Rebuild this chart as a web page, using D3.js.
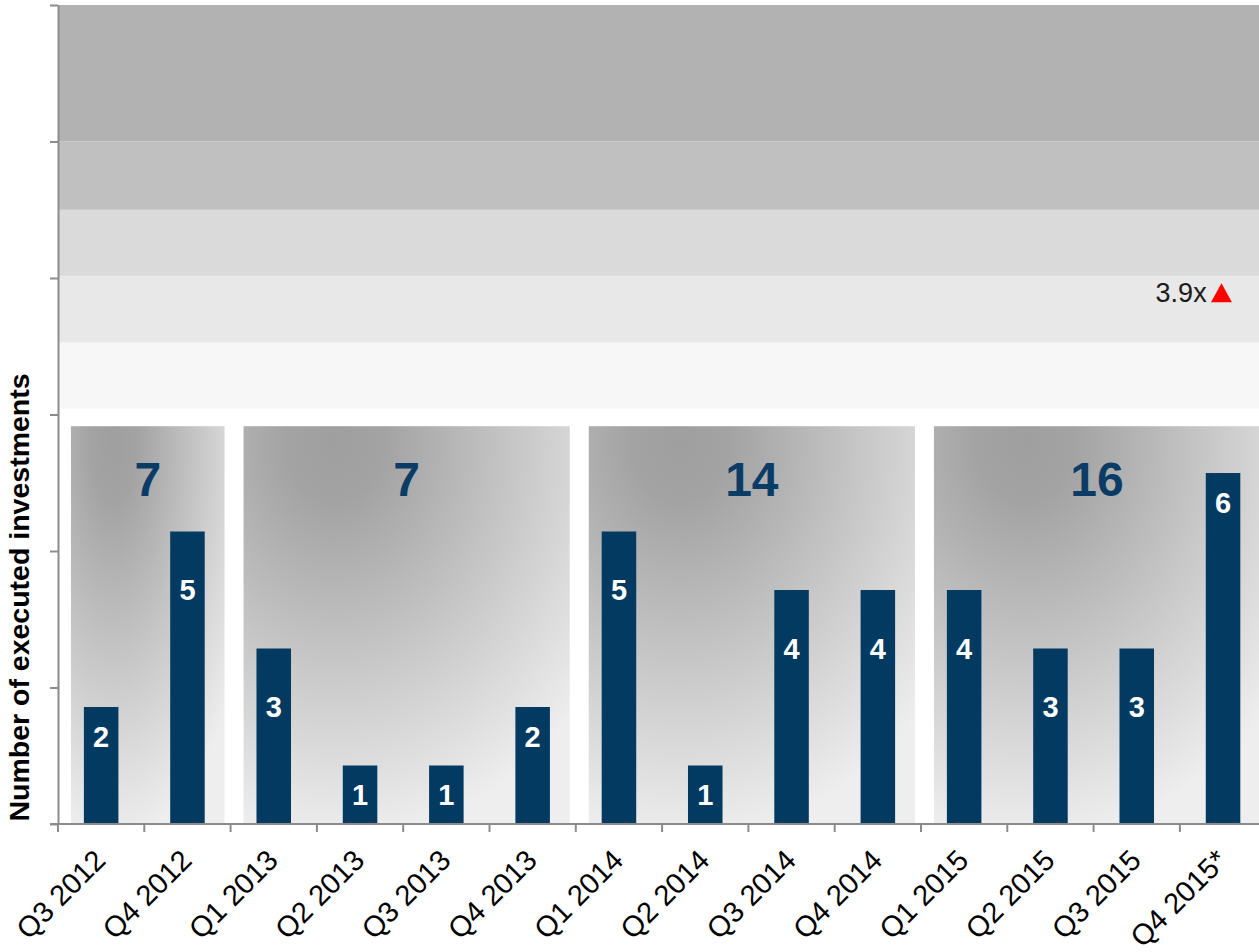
<!DOCTYPE html>
<html>
<head>
<meta charset="utf-8">
<script src="https://cdn.jsdelivr.net/npm/d3@7"></script>
<style>
    body { margin: 0; background: #fff; }
    svg { display: block; font-family: "Liberation Sans", Arial, sans-serif; }
</style>
</head>
<body>
<div class="visholder"></div>
<script>
// data
const quarters = ["Q3 2012", "Q4 2012", "Q1 2013", "Q2 2013", "Q3 2013", "Q4 2013",
    "Q1 2014", "Q2 2014", "Q3 2014", "Q4 2014", "Q1 2015", "Q2 2015", "Q3 2015", "Q4 2015*"];
const investments = [2, 5, 3, 1, 1, 2, 5, 1, 4, 4, 4, 3, 3, 6];
const groupTotals = [7, 7, 14, 16];
const groupFirst = ["Q3 2012", "Q1 2013", "Q1 2014", "Q1 2015"];
const groupLast = ["Q4 2012", "Q4 2013", "Q4 2014", "Q4 2015*"];
const bandEdges = [7.1, 8.23, 9.37, 10.5, 11.67, 14];
const bandColors = ["#f7f7f7", "#e8e8e8", "#dadada", "#c0c0c0", "#b2b2b2"];
const growthLabel = "3.9x";

(function () {
    "use strict";
    // costants
    const width = 1259, height = 952,
        left = 58, top = 5, bottom = 824,
        step = 86.3;

    let svg = d3.select(".visholder").append("svg")
        .attr("width", width)
        .attr("height", height);

    // scales
    let x = d3.scaleBand().domain(quarters).range([left, left + step * quarters.length]);
    let y = d3.scaleLinear().domain([0, 14]).range([bottom, top]);
    const bw = x.bandwidth();

    // gradient for group boxes (dark at the top, light towards bottom / right)
    let grad = svg.append("defs").append("radialGradient")
        .attr("id", "boxGrad")
        .attr("cx", 0.28).attr("cy", 0.04).attr("r", 1)
        .attr("fx", 0.28).attr("fy", 0.04);
    grad.append("stop").attr("offset", "0%").attr("stop-color", "#9f9f9f");
    grad.append("stop").attr("offset", "15%").attr("stop-color", "#a3a3a3");
    grad.append("stop").attr("offset", "100%").attr("stop-color", "#eeeeee");

    // background bands
    svg.append("g").selectAll("rect").data(bandColors).enter().append("rect")
        .attr("x", left)
        .attr("width", width - left)
        .attr("y", (c, i) => y(bandEdges[i + 1]))
        .attr("height", (c, i) => y(bandEdges[i]) - y(bandEdges[i + 1]))
        .style("fill", c => c);

    // group boxes
    const boxTop = 6.8;
    let boxes = svg.append("g").selectAll("g").data(groupTotals).enter().append("g");
    boxes.append("rect")
        .attr("x", (t, i) => x(groupFirst[i]) + bw * 0.15)
        .attr("y", y(boxTop))
        .attr("width", (t, i) => x(groupLast[i]) + bw * 0.93 - x(groupFirst[i]) - bw * 0.15)
        .attr("height", y(0) - y(boxTop))
        .style("fill", "url(#boxGrad)");
    boxes.append("text").text(t => t)
        .attr("x", (t, i) => (x(groupFirst[i]) + bw * 0.15 + x(groupLast[i]) + bw * 0.93) / 2)
        .attr("y", y(5.9))
        .attr("dy", "0.36em")
        .attr("text-anchor", "middle")
        .style("font-size", "48px")
        .style("font-weight", "bold")
        .style("fill", "#0b3c66");

    // bars
    svg.append("g").selectAll("rect").data(investments).enter().append("rect")
        .attr("x", (v, i) => x(quarters[i]) + bw * 0.3)
        .attr("y", v => y(v))
        .attr("width", bw * 0.4)
        .attr("height", v => y(0) - y(v))
        .style("fill", "#033a62");

    // bar labels
    const maxVal = d3.max(investments);
    svg.append("g").selectAll("text").data(investments).enter().append("text")
        .text(v => v)
        .attr("x", (v, i) => x(quarters[i]) + bw / 2)
        .attr("y", v => y(v - ((v <= 2 || v === maxVal) ? 0.5 : 1)))
        .attr("dy", "0.36em")
        .attr("text-anchor", "middle")
        .style("font-size", "29px")
        .style("font-weight", "bold")
        .style("fill", "#fff");

    // growth marker
    const last = quarters[quarters.length - 1];
    svg.append("text").text(growthLabel)
        .attr("x", x(last) + bw * 0.31)
        .attr("y", y(8.92))
        .attr("text-anchor", "end")
        .style("font-size", "27px")
        .style("fill", "#1a1a1a");
    const tx = x(last) + bw * 0.36, ty = y(8.92);
    svg.append("path")
        .attr("d", `M${tx},${ty} L${tx + 21},${ty} L${tx + 10.5},${ty - 19} Z`)
        .style("fill", "#ff0000");

    // y axis
    let yAxis = d3.axisLeft(y)
        .tickValues(d3.range(7).map(i => i * 14 / 6))
        .tickFormat("")
        .tickSize(8)
        .tickSizeOuter(0);
    let gy = svg.append("g").attr("transform", `translate(${left},0)`).call(yAxis);
    gy.selectAll("path, line").style("stroke", "#8c8c8c").style("stroke-width", 2);

    // x axis: line, boundary ticks, rotated labels
    let gx = svg.append("g");
    gx.append("line")
        .attr("x1", left - 8).attr("x2", width)
        .attr("y1", y(0)).attr("y2", y(0));
    gx.selectAll("line.tick").data(quarters).enter().append("line")
        .attr("class", "tick")
        .attr("x1", q => x(q)).attr("x2", q => x(q))
        .attr("y1", y(0)).attr("y2", y(0) + 8);
    gx.selectAll("line").style("stroke", "#8c8c8c").style("stroke-width", 2);
    gx.selectAll("text").data(quarters).enter().append("text")
        .text(q => q)
        .attr("text-anchor", "end")
        .attr("transform", q => `translate(${x(q) + bw / 2 + 6},${y(0) + 38}) rotate(-45)`)
        .style("font-size", "29px")
        .style("fill", "#000");

    // y title
    svg.append("text").text("Number of executed investments")
        .attr("transform", `translate(29,${(top + bottom) / 2 + 183}) rotate(-90)`)
        .attr("text-anchor", "middle")
        .style("font-size", "28.5px")
        .style("font-weight", "bold");
})();
</script>
</body>
</html>
